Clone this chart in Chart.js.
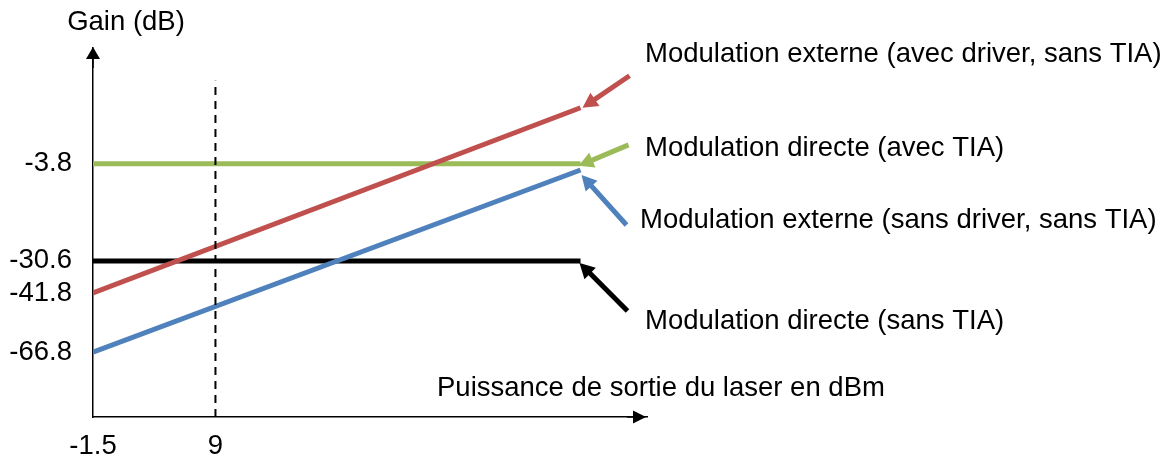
<!DOCTYPE html>
<html>
<head>
<meta charset="utf-8">
<script src="https://cdn.jsdelivr.net/npm/chart.js@4.4.1/dist/chart.umd.min.js"></script>
<style>
  html, body { margin: 0; padding: 0; background: #fff; }
  #chart { display: block; }
</style>
</head>
<body>
<canvas id="chart" width="1169" height="463"></canvas>
<script>
// Gain vs puissance laser — schematic chart

const xTicks = [-1.5, 9];
const yTicks = [-66.8, -41.8, -30.6, -3.8];

// two end points per line (x in dBm, y in dB)
const lineX = [-1.5, 40.3];
const externeAvecDriver = [-41.8, 11.6];
const directeAvecTIA = [-3.8, -3.8];
const externeSansDriver = [-66.8, -5.5];
const directeSansTIA = [-30.6, -30.6];

const markerX = [9, 9];
const markerY = [-95, 19];

const seriesLabels = [
  'Modulation externe (avec driver, sans TIA)',
  'Modulation directe (avec TIA)',
  'Modulation externe (sans driver, sans TIA)',
  'Modulation directe (sans TIA)',
];
const colors = ['#C0504D', '#9BBB59', '#4F81BD', '#000000'];

const FONT = '"Liberation Sans", Arial, sans-serif';
const FONT_SIZE = 27.5;

// y axis of the original is not to scale: piecewise linear between the labelled values
class PiecewiseScale extends Chart.LinearScale {
  static id = 'piecewise';
  static defaults = {};

  toDecimal(value) {
    const v = this.options.anchorValues, f = this.options.anchorFractions;
    let i = 1;
    while (i < v.length - 1 && value > v[i]) i++;
    return f[i - 1] + (value - v[i - 1]) * (f[i] - f[i - 1]) / (v[i] - v[i - 1]);
  }

  getPixelForValue(value) {
    if (value === null || value === undefined || isNaN(value)) return NaN;
    return this.getPixelForDecimal(this.toDecimal(value));
  }

  getValueForPixel(pixel) {
    const d = this.getDecimalForPixel(pixel);
    const v = this.options.anchorValues, f = this.options.anchorFractions;
    let i = 1;
    while (i < f.length - 1 && d > f[i]) i++;
    return v[i - 1] + (d - f[i - 1]) * (v[i] - v[i - 1]) / (f[i] - f[i - 1]);
  }
}
Chart.register(PiecewiseScale);

const pts = (xs, ys) => xs.map((x, i) => ({ x, y: ys[i] }));

function arrow(ctx, x1, y1, x2, y2, color, width, headLen, headHalf) {
  const a = Math.atan2(y2 - y1, x2 - x1);
  const bx = x2 - Math.cos(a) * headLen, by = y2 - Math.sin(a) * headLen;
  ctx.save();
  ctx.strokeStyle = color;
  ctx.fillStyle = color;
  ctx.lineWidth = width;
  ctx.beginPath();
  ctx.moveTo(x1, y1);
  ctx.lineTo(bx + Math.cos(a) * 2, by + Math.sin(a) * 2);
  ctx.stroke();
  ctx.beginPath();
  ctx.moveTo(x2, y2);
  ctx.lineTo(bx + Math.sin(a) * headHalf, by - Math.cos(a) * headHalf);
  ctx.lineTo(bx - Math.sin(a) * headHalf, by + Math.cos(a) * headHalf);
  ctx.closePath();
  ctx.fill();
  ctx.restore();
}

const annotations = {
  id: 'annotations',
  afterDatasetsDraw(chart) {
    const { ctx, chartArea: ca, scales: { x, y } } = chart;
    const ends = [externeAvecDriver, directeAvecTIA, externeSansDriver, directeSansTIA];
    // offsets from the line end: tip nudge and tail
    const tipOff = [[2, 0], [-2, 2], [1, 5], [-1, 2]];
    const tailOff = [[47, -32], [50, -21], [45, 50], [48, 48]];
    const textPos = [[645, 54], [645, 148], [640, 220], [645, 321]];

    ends.forEach((ys, i) => {
      const ex = x.getPixelForValue(lineX[1]) + tipOff[i][0];
      const ey = y.getPixelForValue(ys[1]) + tipOff[i][1];
      arrow(ctx, ex + tailOff[i][0], ey + tailOff[i][1], ex, ey, colors[i], 5, 15, 8);
    });

    ctx.save();
    ctx.fillStyle = '#000';
    ctx.font = FONT_SIZE + 'px ' + FONT;
    ctx.textBaseline = 'middle';
    ctx.textAlign = 'left';
    seriesLabels.forEach((t, i) => ctx.fillText(t, textPos[i][0], textPos[i][1]));

    // axis arrows
    arrow(ctx, ca.left, ca.top + 20, ca.left, ca.top - 1, '#000', 1.5, 12, 7);
    arrow(ctx, ca.right - 20, ca.bottom, ca.right - 1, ca.bottom, '#000', 1.5, 13, 6.5);

    // axis titles
    ctx.textAlign = 'center';
    ctx.fillText('Gain (dB)', 126, 22);
    ctx.textAlign = 'left';
    ctx.fillText('Puissance de sortie du laser en dBm', 437, 388);
    ctx.restore();
  }
};

new Chart(document.getElementById('chart'), {
  type: 'line',
  data: {
    datasets: [
      { data: pts(markerX, markerY), borderColor: '#000', borderWidth: 2, borderDash: [8, 6] },
      { data: pts(lineX, externeAvecDriver), borderColor: colors[0], borderWidth: 5 },
      { data: pts(lineX, externeSansDriver), borderColor: colors[2], borderWidth: 5 },
      { data: pts(lineX, directeAvecTIA), borderColor: colors[1], borderWidth: 5 },
      { data: pts(lineX, directeSansTIA), borderColor: colors[3], borderWidth: 5 },
    ],
  },
  options: {
    responsive: false,
    animation: false,
    devicePixelRatio: 1,
    events: [],
    layout: { padding: { top: 48, right: 522, left: 0, bottom: 0 } },
    elements: { point: { radius: 0 }, line: { tension: 0, borderCapStyle: 'butt' } },
    plugins: { legend: { display: false }, tooltip: { enabled: false } },
    scales: {
      x: {
        type: 'linear',
        min: -1.5,
        max: 46,
        afterBuildTicks: s => { s.ticks = xTicks.map(v => ({ value: v })); },
        afterFit: s => { s.height = 46; },
        grid: { display: false, drawTicks: false },
        border: { display: true, color: '#000', width: 1.5 },
        ticks: { color: '#000', font: { family: FONT, size: FONT_SIZE }, padding: 13, maxRotation: 0, callback: v => String(v) },
      },
      y: {
        type: 'piecewise',
        min: -95,
        max: 28,
        anchorValues: [-95, -66.8, -41.8, -30.6, -3.8, 28],
        anchorFractions: [0, 0.176, 0.336, 0.423, 0.686, 1],
        afterBuildTicks: s => { s.ticks = yTicks.map(v => ({ value: v })); },
        afterFit: s => { s.width = 93; },
        grid: { display: false, drawTicks: false },
        border: { display: true, color: '#000', width: 1.5 },
        ticks: { color: '#000', font: { family: FONT, size: FONT_SIZE }, padding: 21, callback: v => String(v) },
      },
    },
  },
  plugins: [annotations],
});
</script>
</body>
</html>
